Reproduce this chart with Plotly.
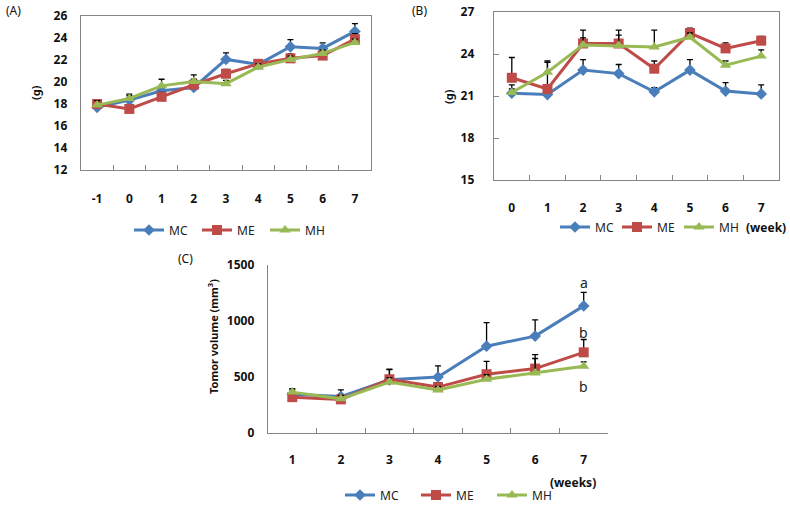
import plotly.graph_objects as go

# ---------------- data ----------------
weeks_A = ["-1", "0", "1", "2", "3", "4", "5", "6", "7"]
A_MC = [17.7, 18.35, 19.2, 19.5, 22.05, 21.6, 23.2, 23.05, 24.6]
A_ME = [18.0, 17.55, 18.65, 19.75, 20.75, 21.65, 22.15, 22.4, 23.9]
A_MH = [17.9, 18.5, 19.65, 20.05, 19.85, 21.35, 22.05, 22.6, 23.6]
A_MC_err = [0.4, 0.4, 0.4, 0.4, 0.6, 0.4, 0.65, 0.5, 0.7]
A_ME_err = [0.4, 0.3, 0.4, 0.5, 0.4, 0.35, 0.4, 0.4, 0.5]
A_MH_err = [0.4, 0.4, 0.6, 0.6, 0.3, 0.3, 0.3, 0.3, 0.3]

weeks_B = ["0", "1", "2", "3", "4", "5", "6", "7"]
B_MC = [21.2, 21.1, 22.85, 22.6, 21.3, 22.85, 21.35, 21.15]
B_ME = [22.3, 21.5, 24.75, 24.75, 22.95, 25.5, 24.4, 24.95]
B_MH = [21.25, 22.7, 24.65, 24.6, 24.5, 25.2, 23.2, 23.85]
B_MC_err = [0.3, 0.3, 0.75, 0.65, 0.3, 0.75, 0.6, 0.65]
B_ME_err = [1.45, 1.9, 0.95, 0.95, 0.55, 0.35, 0.4, 0.3]
B_MH_err = [0.55, 0.8, 0.5, 0.75, 1.2, 0.3, 0.3, 0.45]

weeks_C = ["1", "2", "3", "4", "5", "6", "7"]
C_MC = [345, 325, 475, 500, 775, 865, 1135]
C_ME = [320, 300, 480, 410, 525, 575, 720]
C_MH = [365, 305, 455, 385, 480, 535, 595]
C_MC_err = [40, 60, 90, 100, 210, 145, 120]
C_ME_err = [30, 30, 90, 40, 115, 125, 115]
C_MH_err = [30, 30, 40, 30, 40, 130, 40]
C_sig_labels = ["a", "b", "b"]
C_sig_y = [1340, 900, 415]
C_sig_week = "7"

series_names = ["MC", "ME", "MH"]
colors = {"MC": "#4A7EBB", "ME": "#BE4B48", "MH": "#98B954"}
symbols = {"MC": "diamond", "ME": "square", "MH": "triangle-up"}
msizes = {"MC": 9, "ME": 10, "MH": 10}

FONT = "Noto Sans"
fig = go.Figure()

def add_panel(xcats, vals, errs, xaxis, yaxis, legend):
    for name, v, e in zip(series_names, vals, errs):
        fig.add_trace(go.Scatter(
            x=xcats, y=v, name=name, mode="lines+markers",
            xaxis=xaxis, yaxis=yaxis, legend=legend,
            line=dict(color=colors[name], width=3),
            marker=dict(symbol=symbols[name], size=msizes[name], color=colors[name]),
            error_y=dict(type="data", array=e, arrayminus=[0] * len(e), symmetric=False,
                         color="black", thickness=1.3, width=3),
        ))

add_panel(weeks_A, [A_MC, A_ME, A_MH], [A_MC_err, A_ME_err, A_MH_err], "x", "y", "legend")
add_panel(weeks_B, [B_MC, B_ME, B_MH], [B_MC_err, B_ME_err, B_MH_err], "x2", "y2", "legend2")
add_panel(weeks_C, [C_MC, C_ME, C_MH], [C_MC_err, C_ME_err, C_MH_err], "x3", "y3", "legend3")

tickfont = dict(family=FONT, size=12, color="#111", weight="bold")
axcol = "#868686"

def xax(domain, anchor, mirror, standoff, n):
    return dict(domain=domain, anchor=anchor, type="category", tickson="boundaries",
                range=[-0.5, n - 0.5],
                ticks="inside", ticklen=5, tickcolor=axcol, showline=True, linecolor=axcol,
                linewidth=1.3, mirror=mirror, showgrid=False, zeroline=False,
                tickfont=tickfont, ticklabelstandoff=standoff, fixedrange=True)

def yax(domain, anchor, rng, dtick, mirror, ticks, standoff):
    return dict(domain=domain, anchor=anchor, range=rng, dtick=dtick, tick0=rng[0],
                ticks=ticks, ticklen=5, tickcolor=axcol, showline=True, linecolor=axcol,
                linewidth=1.3, mirror=mirror, showgrid=False, zeroline=False,
                tickfont=tickfont, ticklabelstandoff=standoff, fixedrange=True)

fig.update_layout(
    width=790, height=506, margin=dict(l=0, r=0, t=0, b=0, autoexpand=False),
    paper_bgcolor="white", plot_bgcolor="white",
    font=dict(family=FONT, color="#111"),
    xaxis=xax([81/790, 371/790], "y", True, 17, len(weeks_A)),
    yaxis=yax([1 - 170/506, 1 - 16/506], "x", [12, 26], 2, True, "", 10),
    xaxis2=xax([494/790, 779/790], "y2", True, 16, len(weeks_B)),
    yaxis2=yax([1 - 180/506, 1 - 12/506], "x2", [15, 27], 3, True, "inside", 16),
    xaxis3=xax([268/790, 608/790], "y3", False, 15, len(weeks_C)),
    yaxis3=yax([1 - 433/506, 1 - 265/506], "x3", [0, 1500], 500, False, "", 10),
    showlegend=True,
)

legfont = dict(family=FONT, size=12, color="#222")
for key, lx, ly, ew in [("legend", 129, 230, 23), ("legend2", 555, 227, 17), ("legend3", 340, 495, 31)]:
    fig.update_layout({key: dict(orientation="h", x=lx/790, y=1 - ly/506, xanchor="left",
                                 yanchor="middle", font=legfont, itemwidth=30,
                                 entrywidth=ew, entrywidthmode="pixels",
                                 bgcolor="rgba(0,0,0,0)", tracegroupgap=0)})

ann = []
def txt(x, y, s, size=12, bold=False, angle=0, xanchor="center"):
    ann.append(dict(x=x/790, y=1 - y/506, xref="paper", yref="paper", text=s, showarrow=False,
                    xanchor=xanchor, yanchor="middle", textangle=angle,
                    font=dict(family=FONT, size=size, color="#111", weight="bold" if bold else "normal")))

txt(4, 11, "(A)", 12, xanchor="left")
txt(410, 11, "(B)", 12, xanchor="left")
txt(176, 258, "(C)", 12, xanchor="left")
txt(35, 93, "(g)", 11, True, -90)
txt(448, 97, "(g)", 11, True, -90)
txt(213, 337, "Tomor volume (mm<sup>3</sup>)", 11, True, -90)
txt(766, 227, "(week)", 12, True)
txt(573, 482, "(weeks)", 12, True)

sig_idx = weeks_C.index(C_sig_week)
for s, yv in zip(C_sig_labels, C_sig_y):
    ann.append(dict(x=sig_idx, y=yv, xref="x3", yref="y3", text=s, showarrow=False,
                    font=dict(family=FONT, size=14, color="#222")))

fig.update_layout(annotations=ann)
fig.write_html("out.html", config={"displayModeBar": False, "staticPlot": True},
               post_script="document.body.style.margin='0';document.body.style.overflow='hidden';")
